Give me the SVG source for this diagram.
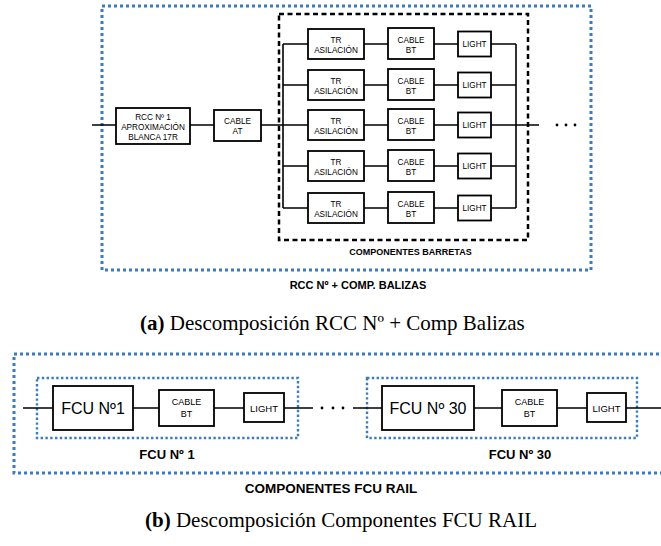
<svg xmlns="http://www.w3.org/2000/svg" width="661" height="546" viewBox="0 0 661 546">
<style>
.bg{fill:#fff}
.blue{fill:none;stroke:#3b7cc0;stroke-width:3;stroke-dasharray:3 3}
.bluein{fill:none;stroke:#3b7cc0;stroke-width:2.4;stroke-dasharray:2.4 2.4}
.dash{fill:none;stroke:#000;stroke-width:2.5;stroke-dasharray:5 3.5}
.box{fill:#fff;stroke:#000;stroke-width:1.8}
.ln{fill:none;stroke:#000;stroke-width:1.6}
.t{font-family:"Liberation Sans",Arial,sans-serif;text-anchor:middle;fill:#000}
.s{font-size:8.2px}
.b{font-weight:bold}
.cap{font-family:"Liberation Serif","Times New Roman",serif;font-size:21px;fill:#000}
</style>
<rect class="bg" x="0" y="0" width="661" height="546"/>

<!-- top containers -->
<rect class="blue" x="102" y="6" width="489" height="264"/>
<rect class="dash" x="279" y="14" width="249" height="226"/>
<text class="t b" x="410.5" y="255" font-size="9">COMPONENTES BARRETAS</text>
<text class="t b" x="358" y="289" font-size="11">RCC Nº + COMP. BALIZAS</text>

<g id="connectors-top">
<path class="ln" d="M92 125H116M190 125H214M261 125H283M516 125H539"/>
<path class="ln" d="M283 44V208M516 44V208"/>
<path class="ln" d="M283 44H308M364 44H388M434 44H458M491 44H516"/>
<path class="ln" d="M283 85H308M364 85H388M434 85H458M491 85H516"/>
<path class="ln" d="M283 125H308M364 125H388M434 125H458M491 125H516"/>
<path class="ln" d="M283 166H308M364 166H388M434 166H458M491 166H516"/>
<path class="ln" d="M283 208H308M364 208H388M434 208H458M491 208H516"/>
<circle cx="557" cy="125" r="1.4"/><circle cx="566" cy="125" r="1.4"/><circle cx="575" cy="125" r="1.4"/>
</g>

<g id="rcc">
<rect class="box" x="116" y="108" width="74" height="36"/>
<text class="t s" x="153" y="120">RCC Nº 1</text>
<text class="t s" x="153" y="130">APROXIMACIÓN</text>
<text class="t s" x="153" y="140">BLANCA 17R</text>
</g>
<g id="cable-at">
<rect class="box" x="214" y="110" width="47" height="31"/>
<text class="t s" x="237.5" y="124">CABLE</text>
<text class="t s" x="237.5" y="134">AT</text>
</g>

<g id="row1">
<rect class="box" x="308" y="29" width="56" height="30"/>
<text class="t s" x="336" y="43">TR</text><text class="t s" x="336" y="53">ASILACIÓN</text>
<rect class="box" x="388" y="28" width="46" height="31"/>
<text class="t s" x="411" y="43">CABLE</text><text class="t s" x="411" y="53">BT</text>
<rect class="box" x="458" y="31.5" width="33" height="25"/>
<text class="t s" x="474.5" y="47">LIGHT</text>
</g>
<g id="row2">
<rect class="box" x="308" y="70" width="56" height="30"/>
<text class="t s" x="336" y="84">TR</text><text class="t s" x="336" y="94">ASILACIÓN</text>
<rect class="box" x="388" y="69" width="46" height="31"/>
<text class="t s" x="411" y="84">CABLE</text><text class="t s" x="411" y="94">BT</text>
<rect class="box" x="458" y="72.5" width="33" height="25"/>
<text class="t s" x="474.5" y="88">LIGHT</text>
</g>
<g id="row3">
<rect class="box" x="308" y="110" width="56" height="30"/>
<text class="t s" x="336" y="124">TR</text><text class="t s" x="336" y="134">ASILACIÓN</text>
<rect class="box" x="388" y="109" width="46" height="31"/>
<text class="t s" x="411" y="124">CABLE</text><text class="t s" x="411" y="134">BT</text>
<rect class="box" x="458" y="112.5" width="33" height="25"/>
<text class="t s" x="474.5" y="128">LIGHT</text>
</g>
<g id="row4">
<rect class="box" x="308" y="151" width="56" height="30"/>
<text class="t s" x="336" y="165">TR</text><text class="t s" x="336" y="175">ASILACIÓN</text>
<rect class="box" x="388" y="150" width="46" height="31"/>
<text class="t s" x="411" y="165">CABLE</text><text class="t s" x="411" y="175">BT</text>
<rect class="box" x="458" y="153.5" width="33" height="25"/>
<text class="t s" x="474.5" y="169">LIGHT</text>
</g>
<g id="row5">
<rect class="box" x="308" y="193" width="56" height="30"/>
<text class="t s" x="336" y="207">TR</text><text class="t s" x="336" y="217">ASILACIÓN</text>
<rect class="box" x="388" y="192" width="46" height="31"/>
<text class="t s" x="411" y="207">CABLE</text><text class="t s" x="411" y="217">BT</text>
<rect class="box" x="458" y="195.5" width="33" height="25"/>
<text class="t s" x="474.5" y="211">LIGHT</text>
</g>

<text class="cap" x="140" y="330"><tspan font-weight="bold">(a)</tspan> Descomposición RCC Nº + Comp Balizas</text>

<!-- bottom -->
<rect class="blue" x="14" y="354" width="700" height="119"/>
<rect class="bluein" x="37" y="378" width="261" height="60"/>
<rect class="bluein" x="367" y="378" width="270" height="60"/>

<g id="connectors-bottom">
<path class="ln" d="M23 408H53M133 408H159M214 408H244M284 408H313"/>
<path class="ln" d="M353 408H382M474 408H502M557 408H587M626 408H661"/>
<circle cx="322" cy="408" r="1.4"/><circle cx="333" cy="408" r="1.4"/><circle cx="343" cy="408" r="1.4"/>
</g>

<g id="fcu1">
<rect class="box" x="53" y="386" width="80" height="44" stroke-width="2"/>
<text class="t" x="93" y="414" font-size="16">FCU Nº1</text>
<rect class="box" x="159" y="390" width="55" height="36" stroke-width="2"/>
<text class="t" x="186.5" y="405" font-size="9">CABLE</text>
<text class="t" x="186.5" y="417" font-size="9">BT</text>
<rect class="box" x="244" y="393" width="40" height="29" stroke-width="2"/>
<text class="t" x="264" y="411.5" font-size="9.5">LIGHT</text>
<text class="t b" x="167" y="459" font-size="13">FCU Nº 1</text>
</g>
<g id="fcu30">
<rect class="box" x="382" y="386" width="92" height="44" stroke-width="2"/>
<text class="t" x="428" y="414" font-size="16">FCU Nº 30</text>
<rect class="box" x="502" y="390" width="55" height="36" stroke-width="2"/>
<text class="t" x="529.5" y="405" font-size="9">CABLE</text>
<text class="t" x="529.5" y="417" font-size="9">BT</text>
<rect class="box" x="587" y="393" width="39" height="29" stroke-width="2"/>
<text class="t" x="606.5" y="411.5" font-size="9.5">LIGHT</text>
<text class="t b" x="520" y="459" font-size="13">FCU Nº 30</text>
</g>
<text class="t b" x="331" y="493" font-size="13.5">COMPONENTES FCU RAIL</text>

<text class="cap" x="145" y="527"><tspan font-weight="bold">(b)</tspan> Descomposición Componentes FCU RAIL</text>
</svg>
